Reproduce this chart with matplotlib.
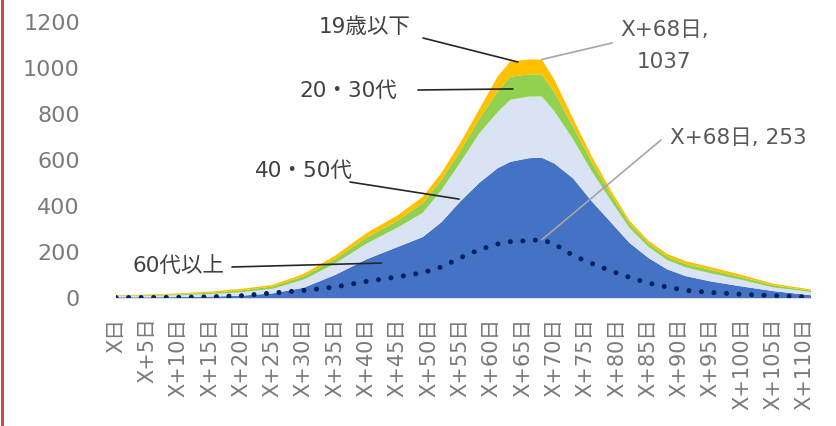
import matplotlib
matplotlib.use("Agg")
import matplotlib.pyplot as plt
from matplotlib.lines import Line2D

# ── Data ──────────────────────────────────────────────────────────────────────
days = [0, 5, 10, 15, 20, 25, 30, 35, 40, 45, 49, 52, 55, 58, 61, 63, 66, 68,
        70, 73, 76, 79, 82, 85, 88, 91, 95, 100, 105, 111]

age_60_plus = [3, 3, 4, 6, 10, 20, 45, 100, 168, 222, 265, 330, 420, 500, 565,
               592, 608, 610, 585, 520, 420, 330, 240, 175, 125, 95, 72, 50, 30, 12]
age_40_50 = [5, 6, 8, 11, 15, 20, 35, 50, 68, 85, 105, 140, 170, 215, 245,
             270, 268, 266, 228, 170, 130, 95, 65, 48, 40, 38, 35, 28, 16, 14]
age_20_30 = [2, 3, 4, 6, 8, 10, 15, 20, 26, 30, 43, 45, 50, 62, 90,
             100, 96, 96, 82, 55, 40, 28, 20, 16, 15, 15, 15, 12, 9, 6]
age_19_under = [2, 3, 4, 5, 7, 7, 10, 14, 20, 23, 27, 30, 35, 43, 65,
                66, 65, 65, 55, 35, 25, 17, 12, 11, 12, 12, 12, 10, 7, 5]
dotted_series = [2, 2, 3, 5, 10, 22, 33, 48, 72, 92, 110, 135, 175, 210, 235,
                 245, 250, 253, 235, 185, 150, 118, 90, 65, 48, 33, 24, 16, 10, 4]

tick_days = list(range(0, 111, 5))
tick_labels = ["X日"] + [f"X+{d}日" for d in tick_days[1:]]

series_labels = ["60代以上", "40・50代", "20・30代", "19歳以下"]
colors = ["#4472C4", "#DAE3F3", "#92D050", "#FFC000"]
DOT_COLOR = "#002060"

FONT = ["DejaVu Sans", "Noto Sans CJK JP"]
W, H = 837, 426


def fx(x):
    return x / W


def fy(y_top):
    # pixel y measured from the top -> figure fraction
    return (H - y_top) / H


# ── Figure ────────────────────────────────────────────────────────────────────
plt.rcParams["font.family"] = FONT
fig = plt.figure(figsize=(W / 100, H / 100), dpi=100)
ax = fig.add_axes([fx(116), fy(298), fx(695), (298 - 22) / H])

ax.stackplot(days, age_60_plus, age_40_50, age_20_30, age_19_under,
             colors=colors, linewidth=0)
ax.plot(days, dotted_series, color=DOT_COLOR, lw=3.6,
        linestyle=(0, (0.01, 2.5)), dash_capstyle="round")

ax.set_xlim(0, 111)
ax.set_ylim(0, 1200)
ax.set_yticks(range(0, 1201, 200))
ax.set_xticks(tick_days)
ax.set_xticklabels(tick_labels, rotation=90, ha="center", va="top")
ax.tick_params(axis="y", length=0, pad=26, labelsize=16, labelcolor="#7a7a7a")
ax.tick_params(axis="x", length=0, pad=14, labelsize=15, labelcolor="#7a7a7a")

for side in ["top", "left", "right"]:
    ax.spines[side].set_visible(False)
ax.spines["bottom"].set_color("#D9D9D9")
ax.spines["bottom"].set_linewidth(0.8)

# ── Series labels with leader lines ───────────────────────────────────────────
label_specs = [
    # text, text centre (px from top), line start (px), line end (day, value)
    ("19歳以下", (365, 27), (423, 38), (64.2, 1026)),
    ("20・30代", (348, 91), (418, 90), (63.4, 909)),
    ("40・50代", (304, 171), (350, 182), (54.8, 430)),
    ("60代以上", (178, 266), (232, 267), (42.4, 152)),
]
for text, (tx, ty), (lx, ly), end in label_specs:
    fig.text(fx(tx), fy(ty), text, ha="center", va="center",
             fontsize=15.5, color="#404040")
    ax.annotate("", xy=end, xycoords="data",
                xytext=(lx, H - ly), textcoords="figure pixels",
                arrowprops=dict(arrowstyle="-", color="#262626", lw=1.2,
                                shrinkA=0, shrinkB=0))

# ── Data labels ───────────────────────────────────────────────────────────────
peak_idx = days.index(68)
peak_total = (age_60_plus[peak_idx] + age_40_50[peak_idx]
              + age_20_30[peak_idx] + age_19_under[peak_idx])

fig.text(fx(620), fy(46), f"X+68日,\n{peak_total}", ha="left", va="center",
         multialignment="center", linespacing=1.75,
         fontsize=15.5, color="#595959")
ax.annotate("", xy=(68, peak_total), xycoords="data",
            xytext=(612, H - 43), textcoords="figure pixels",
            arrowprops=dict(arrowstyle="-", color="#A6A6A6", lw=1.2,
                            shrinkA=0, shrinkB=0))

fig.text(fx(670), fy(138), f"X+68日, {dotted_series[peak_idx]}", ha="left",
         va="center", fontsize=15.5, color="#595959")
ax.annotate("", xy=(68, dotted_series[peak_idx]), xycoords="data",
            xytext=(661, H - 140), textcoords="figure pixels",
            arrowprops=dict(arrowstyle="-", color="#A6A6A6", lw=1.2,
                            shrinkA=0, shrinkB=0))

# red frame edge at the left
fig.add_artist(Line2D([fx(2), fx(2)], [0, 1], color="#CC4B4B", lw=2.2))

fig.savefig("out.png", dpi=100, facecolor="white")
